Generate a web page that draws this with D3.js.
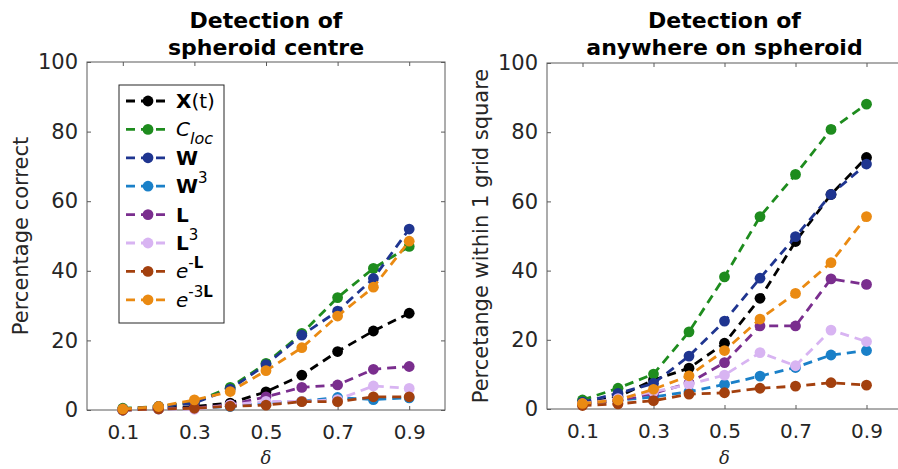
<!DOCTYPE html>
<html>
<head>
<meta charset="utf-8">
<script src="https://cdn.jsdelivr.net/npm/d3@7"></script>
<style>
  html, body { margin: 0; padding: 0; background: #fff; }
  svg { display: block; font-family: "DejaVu Sans", sans-serif; }
</style>
</head>
<body>
<svg id="chart" width="898" height="469"></svg>
<script>
// delta values on the x axis
const deltas = [0.1, 0.2, 0.3, 0.4, 0.5, 0.6, 0.7, 0.8, 0.9];
const xTicks = [0.1, 0.3, 0.5, 0.7, 0.9];
const yTicks = [0, 20, 40, 60, 80, 100];

// series keys, colours (same order as the legend)
const seriesKeys = ["Xt", "Cloc", "W", "W3", "L", "L3", "eL", "e3L"];
const seriesColors = ["#000000", "#1e8c1e", "#1f3590", "#1a80c8", "#7a2e8e", "#d8b4f2", "#a3400e", "#ea8a12"];

// left panel: detection of spheroid centre (% correct)
const centreXt   = [0.0, 0.5, 1.0, 2.0, 5.2, 10.0, 16.8, 22.7, 27.8];
const centreCloc = [0.5, 1.0, 2.2, 6.5, 13.4, 22.0, 32.3, 40.7, 47.0];
const centreW    = [0.3, 1.0, 2.0, 6.0, 13.0, 21.5, 28.4, 37.8, 52.0];
const centreW3   = [0.0, 0.3, 0.5, 1.0, 2.0, 2.5, 3.6, 3.0, 3.5];
const centreL    = [0.0, 0.3, 0.6, 1.5, 3.8, 6.5, 7.2, 11.7, 12.5];
const centreL3   = [0.0, 0.3, 0.2, 1.5, 2.5, 2.5, 3.0, 6.9, 6.2];
const centreEL   = [0.0, 0.3, 0.5, 1.1, 1.4, 2.4, 2.4, 3.8, 3.8];
const centreE3L  = [0.3, 1.0, 2.9, 5.3, 11.3, 17.9, 27.0, 35.3, 48.5];

// right panel: detection anywhere on spheroid (% within 1 grid square)
const anyXt   = [1.5, 3.5, 8.4, 11.8, 19.0, 32.0, 48.4, 62.0, 72.7];
const anyCloc = [2.6, 6.0, 10.1, 22.3, 38.2, 55.6, 67.8, 80.8, 88.1];
const anyW    = [2.0, 4.5, 7.4, 15.3, 25.4, 37.8, 49.8, 62.0, 70.8];
const anyW3   = [1.5, 2.5, 3.5, 5.0, 7.1, 9.5, 12.0, 15.6, 16.9];
const anyL    = [1.5, 2.5, 4.5, 7.5, 13.4, 24.0, 24.0, 37.6, 36.0];
const anyL3   = [1.5, 3.0, 5.0, 7.1, 9.8, 16.3, 12.5, 22.8, 19.5];
const anyEL   = [1.0, 1.5, 2.4, 4.3, 4.7, 6.0, 6.6, 7.6, 6.9];
const anyE3L  = [1.6, 2.6, 5.7, 9.6, 16.9, 26.0, 33.4, 42.3, 55.6];

const centreSeries = [centreXt, centreCloc, centreW, centreW3, centreL, centreL3, centreEL, centreE3L];
const anySeries = [anyXt, anyCloc, anyW, anyW3, anyL, anyL3, anyEL, anyE3L];

const svg = d3.select("#chart");
const axisColor = "#5a5a5a";
const textColor = "#262626";

function drawPanel(opts) {
  const x = d3.scaleLinear().domain([0, 1]).range([opts.left, opts.right]);
  const y = d3.scaleLinear().domain([0, 100]).range([opts.bottom, opts.top]);
  const g = svg.append("g");

  // box
  g.append("rect")
    .attr("x", opts.left).attr("y", opts.top)
    .attr("width", opts.right - opts.left).attr("height", opts.bottom - opts.top)
    .attr("fill", "none").attr("stroke", axisColor).attr("stroke-width", 1);

  // bottom axis with inward ticks
  const xAxis = g.append("g").attr("transform", `translate(0,${opts.bottom})`)
    .call(d3.axisBottom(x).tickValues(xTicks).tickSizeInner(-4).tickSizeOuter(0).tickPadding(15).tickFormat(d3.format(".1f")));
  xAxis.select(".domain").remove();
  xAxis.selectAll("line").attr("stroke", axisColor);
  xAxis.selectAll("text").attr("fill", textColor).style("font-size", "20px").style("font-family", "DejaVu Sans");

  // top edge ticks
  const xTop = g.append("g").attr("transform", `translate(0,${opts.top})`)
    .call(d3.axisTop(x).tickValues(xTicks).tickSizeInner(-4).tickSizeOuter(0).tickFormat(""));
  xTop.select(".domain").remove();
  xTop.selectAll("line").attr("stroke", axisColor);

  // left axis with inward ticks
  const yAxis = g.append("g").attr("transform", `translate(${opts.left},0)`)
    .call(d3.axisLeft(y).tickValues(yTicks).tickSizeInner(-4).tickSizeOuter(0).tickPadding(9));
  yAxis.select(".domain").remove();
  yAxis.selectAll("line").attr("stroke", axisColor);
  yAxis.selectAll("text").attr("fill", textColor).style("font-size", "21px").style("font-family", "DejaVu Sans");

  // right edge ticks
  const yRight = g.append("g").attr("transform", `translate(${opts.right},0)`)
    .call(d3.axisRight(y).tickValues(yTicks).tickSizeInner(-4).tickSizeOuter(0).tickFormat(""));
  yRight.select(".domain").remove();
  yRight.selectAll("line").attr("stroke", axisColor);

  // series (later ones drawn on top)
  const line = d3.line().x((d, i) => x(deltas[i])).y(d => y(d));
  opts.series.forEach((vals, k) => {
    const sg = g.append("g");
    sg.append("path").datum(vals)
      .attr("d", line)
      .attr("fill", "none")
      .attr("stroke", seriesColors[k])
      .attr("stroke-width", 2.8)
      .attr("stroke-dasharray", "9,6");
    sg.selectAll("circle").data(vals).enter().append("circle")
      .attr("cx", (d, i) => x(deltas[i]))
      .attr("cy", d => y(d))
      .attr("r", 5.4)
      .attr("fill", seriesColors[k]);
  });

  // title
  const cx = (opts.left + opts.right) / 2;
  opts.title.forEach((t, i) => {
    g.append("text").attr("x", cx).attr("y", 28 + i * 27)
      .attr("text-anchor", "middle")
      .style("font-weight", "bold").style("font-size", "22px")
      .attr("fill", "#000").text(t);
  });

  // x label
  g.append("text").attr("x", cx).attr("y", 464)
    .attr("text-anchor", "middle")
    .style("font-family", "DejaVu Serif").style("font-style", "italic").style("font-size", "18px")
    .attr("fill", textColor).text("δ");

  // y label
  g.append("text")
    .attr("transform", `translate(${opts.ylabelX},${(opts.top + opts.bottom) / 2}) rotate(-90)`)
    .attr("text-anchor", "middle")
    .style("font-size", "21px")
    .attr("fill", textColor).text(opts.ylabel);

  return { x, y, g };
}

drawPanel({
  left: 87, right: 445, top: 62, bottom: 410,
  series: centreSeries,
  title: ["Detection of", "spheroid centre"],
  ylabel: "Percentage correct", ylabelX: 28
});

drawPanel({
  left: 547, right: 902, top: 63, bottom: 409,
  series: anySeries,
  title: ["Detection of", "anywhere on spheroid"],
  ylabel: "Percetange within 1 grid square", ylabelX: 488
});

// legend in the left panel
const legend = svg.append("g");
legend.append("rect").attr("x", 119).attr("y", 85).attr("width", 105).attr("height", 238)
  .attr("fill", "#fff").attr("stroke", textColor).attr("stroke-width", 1);

const legendLabels = [
  [{t: "X", w: "bold"}, {t: "(t)"}],
  [{t: "C", s: "italic"}, {t: "loc", s: "italic", sub: true}],
  [{t: "W", w: "bold"}],
  [{t: "W", w: "bold"}, {t: "3", sup: true}],
  [{t: "L", w: "bold"}],
  [{t: "L", w: "bold"}, {t: "3", sup: true}],
  [{t: "e", s: "italic"}, {t: "-", sup: true}, {t: "L", w: "bold", sup2: true}],
  [{t: "e", s: "italic"}, {t: "-3", sup: true}, {t: "L", w: "bold", sup2: true}]
];

seriesKeys.forEach((key, k) => {
  const yy = 101 + k * 28.4;
  legend.append("line").attr("x1", 126).attr("x2", 171).attr("y1", yy).attr("y2", yy)
    .attr("stroke", seriesColors[k]).attr("stroke-width", 2.8).attr("stroke-dasharray", "9,6");
  legend.append("circle").attr("cx", 148).attr("cy", yy).attr("r", 5.4).attr("fill", seriesColors[k]);
  const txt = legend.append("text").attr("x", 176).attr("y", yy + 7)
    .style("font-size", "20px").attr("fill", "#000");
  legendLabels[k].forEach(p => {
    const ts = txt.append("tspan").text(p.t);
    if (p.w) ts.style("font-weight", p.w);
    if (p.s) ts.style("font-style", p.s);
    if (p.sub) ts.attr("dy", 8).style("font-size", "16px");
    if (p.sup) ts.attr("dy", -10).style("font-size", "15px");
    if (p.sup2) ts.style("font-size", "15px");
  });
});
</script>
</body>
</html>
